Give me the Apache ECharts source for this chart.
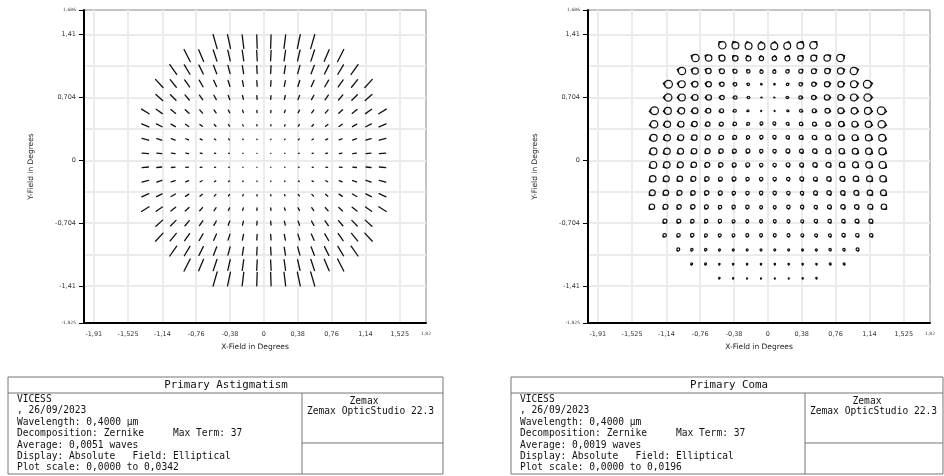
<!DOCTYPE html>
<html><head><meta charset="utf-8">
<script src="https://cdn.jsdelivr.net/npm/echarts@6/dist/echarts.min.js"></script>
<style>html,body{margin:0;padding:0;background:#fff}#c{width:944px;height:476px}</style>
</head><body><div id="c"></div><script>
// Field sample positions (degrees): columns left to right, rows top to bottom
const fieldX = [-1.332,-1.175,-1.018,-0.862,-0.705,-0.548,-0.392,-0.235,-0.078,0.078,0.235,0.392,0.548,0.705,0.862,1.018,1.175,1.332];
const fieldY = [1.332,1.175,1.018,0.862,0.705,0.548,0.392,0.235,0.078,-0.078,-0.235,-0.392,-0.548,-0.705,-0.862,-1.018,-1.175,-1.332];
// Number of sampled points on each side of the centre, per row (top to bottom)
const rowHalfCounts = [4,6,7,8,8,9,9,9,9,9,9,9,9,8,8,7,6,4];

// Axis extents and tick labels (degrees)
const xRange = [-2.02, 1.82];
const yRange = [-1.825, 1.686];
const xLabelValues = [-1.91,-1.525,-1.14,-0.76,-0.38,0,0.38,0.76,1.14,1.525,1.82];
const xGridValues = [-1.91,-1.525,-1.14,-0.76,-0.38,0,0.38,0.76,1.14,1.525];
const yLabelValues = [-1.825,-1.41,-0.704,0,0.704,1.41,1.686];
const yGridValues = [-1.41,-1.056,-0.704,-0.352,0,0.352,0.704,1.056,1.41];

// Primary astigmatism (waves) for one quadrant: row = rings out from the centre row, col = out from the centre column
const astigMag = [
  [0.0002,0.0006,0.0014,0.0026,0.0042,0.0062,0.0086,0.0115,0.0147],
  [0.0011,0.0015,0.0024,0.0036,0.0052,0.0072,0.0097,0.0125,0.0158],
  [0.0028,0.0032,0.0042,0.0055,0.0071,0.0092,0.0117,0.0145,0.0178],
  [0.0054,0.0059,0.0068,0.0082,0.0099,0.0120,0.0145,0.0174,0.0207],
  [0.0088,0.0093,0.0103,0.0117,0.0135,0.0157,0.0182,0.0212],
  [0.0132,0.0136,0.0146,0.0160,0.0179,0.0201,0.0227,0.0257],
  [0.0184,0.0189,0.0198,0.0212,0.0231,0.0254,0.0281],
  [0.0244,0.0249,0.0258,0.0273,0.0292,0.0315],
  [0.0313,0.0318,0.0328,0.0342]
];
// Orientation of the astigmatic line (degrees from +x) in the upper-right quadrant
const astigAngle = [
  [57,28,17,13,10,8,7,6,5],
  [77,56,42,33,27,23,19,17,15],
  [82,67,55,46,39,34,30,27,24],
  [84,73,63,55,49,43,39,35,32],
  [85,77,69,61,55,50,45,42],
  [86,79,72,66,60,55,51,47],
  [87,81,75,69,64,59,55],
  [87,82,77,72,67,63],
  [88,83,78,74]
];
const astigScaleMax = 0.0342;

// Primary coma (waves), right half of each row (top to bottom), centre column first
const comaMag = [
  [0.0172,0.0172,0.0172,0.0184],
  [0.0110,0.0123,0.0135,0.0147,0.0159,0.0184],
  [0.0081,0.0086,0.0098,0.0123,0.0135,0.0159,0.0184],
  [0.0037,0.0061,0.0086,0.0110,0.0135,0.0147,0.0172,0.0196],
  [0.0025,0.0061,0.0086,0.0110,0.0135,0.0147,0.0172,0.0184],
  [0.0025,0.0049,0.0074,0.0098,0.0123,0.0147,0.0159,0.0172,0.0196],
  [0.0074,0.0074,0.0086,0.0098,0.0110,0.0135,0.0147,0.0159,0.0184],
  [0.0086,0.0086,0.0098,0.0110,0.0123,0.0135,0.0147,0.0159,0.0172],
  [0.0086,0.0098,0.0098,0.0110,0.0123,0.0135,0.0147,0.0159,0.0172],
  [0.0086,0.0098,0.0098,0.0110,0.0123,0.0135,0.0147,0.0159,0.0172],
  [0.0086,0.0086,0.0098,0.0098,0.0110,0.0123,0.0135,0.0147,0.0159],
  [0.0086,0.0086,0.0086,0.0098,0.0110,0.0110,0.0123,0.0135,0.0147],
  [0.0074,0.0086,0.0086,0.0086,0.0098,0.0110,0.0110,0.0123,0.0135],
  [0.0074,0.0074,0.0074,0.0086,0.0086,0.0086,0.0098,0.0098],
  [0.0074,0.0074,0.0074,0.0074,0.0074,0.0086,0.0086,0.0086],
  [0.0049,0.0049,0.0049,0.0049,0.0061,0.0061,0.0074],
  [0.0037,0.0037,0.0037,0.0037,0.0049,0.0049],
  [0.0025,0.0025,0.0029,0.0037]
];
// Direction of the coma flare (degrees from +x), right half
const comaAngle = [
  [83,70,58,49],
  [81,64,50,41,34,29],
  [76,54,39,30,24,20,17],
  [64,35,22,16,13,11,9,8],
  [4,1,1,1,0,0,0,0],
  [-63,-33,-21,-16,-12,-10,-8,-7,-7],
  [-76,-53,-38,-29,-24,-20,-17,-15,-13],
  [-80,-63,-50,-40,-33,-28,-25,-22,-19],
  [-83,-69,-58,-49,-41,-36,-31,-28,-25],
  [-84,-73,-63,-55,-48,-42,-37,-34,-30],
  [-85,-76,-67,-60,-53,-47,-43,-39,-35],
  [-86,-78,-70,-63,-57,-52,-47,-43,-39],
  [-86,-79,-73,-66,-61,-55,-51,-47,-43],
  [-87,-80,-74,-69,-63,-58,-54,-50],
  [-87,-81,-76,-71,-66,-61,-57,-53],
  [-87,-82,-77,-72,-68,-63,-59],
  [-88,-83,-78,-74,-69,-65],
  [-88,-83,-79,-75]
];
const comaScaleMax = 0.0196;

// Text blocks under each plot
const astigInfo = ['VICESS', ', 26/09/2023', 'Wavelength: 0,4000 \u00b5m', 'Decomposition: Zernike     Max Term: 37',
  'Average: 0,0051 waves', 'Display: Absolute   Field: Elliptical', 'Plot scale: 0,0000 to 0,0342'];
const comaInfo = ['VICESS', ', 26/09/2023', 'Wavelength: 0,4000 \u00b5m', 'Decomposition: Zernike     Max Term: 37',
  'Average: 0,0019 waves', 'Display: Absolute   Field: Elliptical', 'Plot scale: 0,0000 to 0,0196'];
const softwareInfo = ['Zemax', 'Zemax OpticStudio 22.3'];

// ---- build series data ----
const stepX = fieldX[10] - fieldX[9];
const astigData = [];
fieldY.forEach((y, r) => {
  const ring = r < 9 ? 8 - r : r - 9;
  const sy = r < 9 ? 1 : -1;
  for (let i = 0; i < rowHalfCounts[r]; i++) {
    [1, -1].forEach(sx => {
      astigData.push([sx * fieldX[9 + i], y, astigMag[ring][i], astigAngle[ring][i] * sx * sy]);
    });
  }
});
const comaData = [];
fieldY.forEach((y, r) => {
  for (let i = 0; i < rowHalfCounts[r]; i++) {
    [1, -1].forEach(sx => {
      const a = comaAngle[r][i];
      comaData.push([sx * fieldX[9 + i], y, comaMag[r][i], sx > 0 ? a : 180 - a]);
    });
  }
});

function renderAstig(params, api) {
  const p = api.coord([api.value(0), api.value(1)]);
  const cell = api.size([stepX, 0])[0];
  const len = api.value(2) / astigScaleMax * cell * 1.05;
  const a = api.value(3) * Math.PI / 180;
  const dx = Math.cos(a) * len / 2, dy = -Math.sin(a) * len / 2;
  return {
    type: 'line',
    shape: { x1: p[0] - dx, y1: p[1] - dy, x2: p[0] + dx, y2: p[1] + dy },
    style: { stroke: '#111', lineWidth: 1.3, lineCap: 'round' }
  };
}

function renderComa(params, api) {
  const tip = api.coord([api.value(0), api.value(1)]);
  const cell = api.size([stepX, 0])[0];
  const R = Math.max(api.value(2) / comaScaleMax * cell * 0.28, 0.5);
  const a = api.value(3) * Math.PI / 180;
  const ux = Math.cos(a), uy = -Math.sin(a);
  const D = R * 1.35;
  const cx = tip[0] - ux * D, cy = tip[1] - uy * D;
  const t = Math.acos(R / D);
  const base = Math.atan2(uy, ux);
  const p1 = [cx + R * Math.cos(base + t), cy + R * Math.sin(base + t)];
  const p2 = [cx + R * Math.cos(base - t), cy + R * Math.sin(base - t)];
  const style = { stroke: '#111', fill: null, lineWidth: 1.2 };
  return {
    type: 'group',
    children: [
      { type: 'circle', shape: { cx: cx, cy: cy, r: R }, style: style },
      { type: 'polyline', shape: { points: [p1, tip, p2] }, style: style }
    ]
  };
}

// ---- axes ----
const tickFont = { fontFamily: 'DejaVu Sans', fontSize: 6.5, color: '#333' };
function fmtVal(v) { return String(Math.round(v * 1000) / 1000).replace('.', ','); }
function makeFormatter(lo, hi) {
  return v => (Math.abs(v - lo) < 1e-6 || Math.abs(v - hi) < 1e-6) ? '{s|' + fmtVal(v) + '}' : fmtVal(v);
}
const smallRich = { s: { fontFamily: 'DejaVu Sans', fontSize: 4.5, color: '#444' } };
const gridLine = { show: true, lineStyle: { color: '#ebebeb', width: 2 } };

function xAxes(gi) {
  return [
    { gridIndex: gi, type: 'value', min: xRange[0], max: xRange[1], position: 'bottom',
      name: 'X-Field in Degrees', nameLocation: 'middle', nameGap: 18,
      nameTextStyle: { fontFamily: 'DejaVu Sans', fontSize: 7.5, color: '#222' },
      axisLine: { show: true, onZero: false, lineStyle: { color: '#000', width: 2 } },
      axisTick: { show: false, customValues: xLabelValues },
      axisLabel: { customValues: xLabelValues, margin: 8, formatter: makeFormatter(xRange[0], xRange[1]), rich: smallRich, ...tickFont },
      splitLine: { show: false } },
    { gridIndex: gi, type: 'value', min: xRange[0], max: xRange[1], position: 'bottom',
      axisLine: { show: false }, axisLabel: { show: false },
      axisTick: { show: false, customValues: xGridValues }, splitLine: gridLine }
  ];
}
function yAxes(gi) {
  return [
    { gridIndex: gi, type: 'value', min: yRange[0], max: yRange[1], position: 'left',
      name: 'Y-Field in Degrees', nameLocation: 'middle', nameGap: 49, nameRotate: 90,
      nameTextStyle: { fontFamily: 'DejaVu Sans', fontSize: 7.5, color: '#222' },
      axisLine: { show: true, onZero: false, lineStyle: { color: '#000', width: 2 } },
      axisTick: { show: true, inside: false, length: 5, customValues: yLabelValues, lineStyle: { color: '#000', width: 1 } },
      axisLabel: { customValues: yLabelValues, margin: 8, formatter: makeFormatter(yRange[0], yRange[1]), rich: smallRich, ...tickFont },
      splitLine: { show: false } },
    { gridIndex: gi, type: 'value', min: yRange[0], max: yRange[1], position: 'left',
      axisLine: { show: false }, axisLabel: { show: false },
      axisTick: { show: false, customValues: yGridValues }, splitLine: gridLine }
  ];
}

// ---- info boxes below the plots ----
function infoBox(x0, w, title, lines) {
  const top = 377, titleH = 16, bottom = 474, split = 294;
  const mono = 'DejaVu Sans Mono';
  const els = [
    { type: 'rect', shape: { x: x0, y: top, width: w, height: bottom - top }, style: { fill: '#fff', stroke: '#777', lineWidth: 1 } },
    { type: 'line', shape: { x1: x0, y1: top + titleH, x2: x0 + w, y2: top + titleH }, style: { stroke: '#777', lineWidth: 1 } },
    { type: 'line', shape: { x1: x0 + split, y1: top + titleH, x2: x0 + split, y2: bottom }, style: { stroke: '#777', lineWidth: 1 } },
    { type: 'line', shape: { x1: x0 + split, y1: 443, x2: x0 + w, y2: 443 }, style: { stroke: '#777', lineWidth: 1 } },
    { type: 'text', x: x0 + 218, y: top + 8, style: { text: title, font: '10.8px "' + mono + '"', fill: '#111', textAlign: 'center', textVerticalAlign: 'middle' } },
    { type: 'text', x: x0 + split + 62, y: 401, style: { text: softwareInfo[0], font: '9.6px "' + mono + '"', fill: '#111', textAlign: 'center', textVerticalAlign: 'middle' } },
    { type: 'text', x: x0 + split + 5, y: 411.5, style: { text: softwareInfo[1], font: '9.6px "' + mono + '"', fill: '#111', textAlign: 'left', textVerticalAlign: 'middle' } }
  ];
  lines.forEach((t, k) => {
    els.push({ type: 'text', x: x0 + 9, y: 399.5 + k * 11.4, style: { text: t, font: '9.6px "' + mono + '"', fill: '#111', textAlign: 'left', textVerticalAlign: 'middle' } });
  });
  return els;
}

const chart = echarts.init(document.getElementById('c'), null, { renderer: 'canvas' });
chart.setOption({
  animation: false,
  backgroundColor: '#fff',
  grid: [
    { left: 84, top: 10, width: 342, height: 313, show: true, borderColor: '#888', borderWidth: 1, backgroundColor: '#fff' },
    { left: 588, top: 10, width: 342, height: 313, show: true, borderColor: '#888', borderWidth: 1, backgroundColor: '#fff' }
  ],
  xAxis: [...xAxes(0), ...xAxes(1)],
  yAxis: [...yAxes(0), ...yAxes(1)],
  series: [
    { type: 'custom', name: 'Primary Astigmatism', xAxisIndex: 0, yAxisIndex: 0, coordinateSystem: 'cartesian2d',
      data: astigData, renderItem: renderAstig, encode: { x: 0, y: 1 }, z: 5 },
    { type: 'custom', name: 'Primary Coma', xAxisIndex: 2, yAxisIndex: 2, coordinateSystem: 'cartesian2d',
      data: comaData, renderItem: renderComa, encode: { x: 0, y: 1 }, z: 5 }
  ],
  graphic: [...infoBox(8, 435, 'Primary Astigmatism', astigInfo), ...infoBox(511, 432, 'Primary Coma', comaInfo)]
});
</script></body></html>
